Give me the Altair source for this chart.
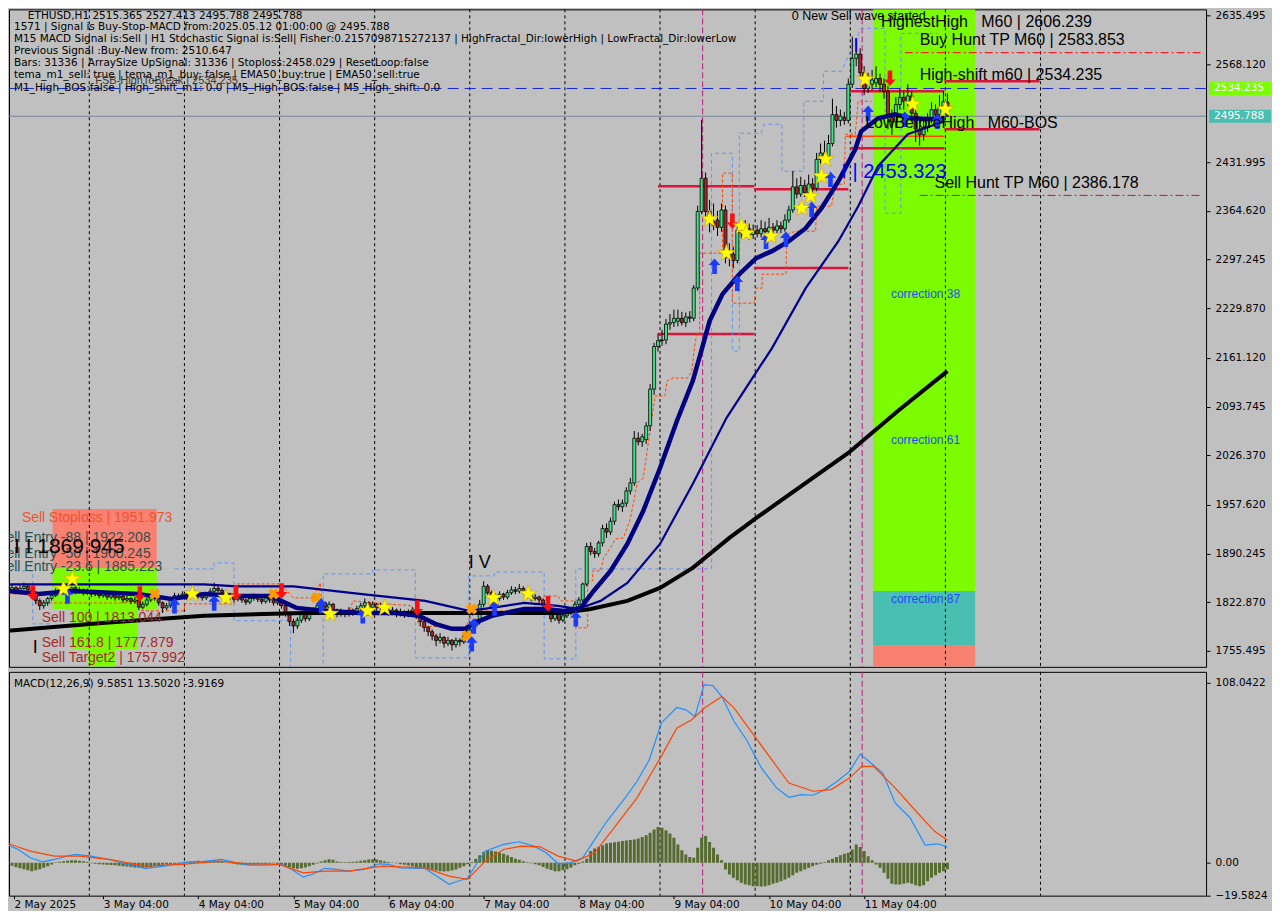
import json
import altair as alt
import pandas as pd

# ---------------- ETHUSD H1 bars (bar 0 = 2 May 04:00, last = 12 May 01:00) ----------------
opens = [
 1838,1840,1843,1838,1842,1845,1840,1836,1825,1818,
 1822,1828,1832,1838,1842,1845,1840,1843,1838,1840,
 1836,1838,1834,1836,1832,1835,1830,1833,1829,1831,
 1826,1828,1824,1826,1816,1820,1826,1830,1828,1822,
 1815,1818,1825,1832,1830,1834,1830,1833,1836,1832,
 1829,1833,1838,1842,1839,1836,1833,1830,1827,1830,
 1826,1823,1828,1831,1827,1824,1829,1826,1822,1825,
 1818,1808,1796,1790,1798,1806,1800,1808,1812,1818,
 1822,1816,1820,1812,1806,1810,1806,1812,1808,1814,
 1818,1822,1816,1820,1815,1818,1812,1808,1812,1806,
 1810,1805,1809,1812,1805,1796,1788,1782,1776,1770,
 1774,1766,1770,1764,1770,1768,1776,1784,1790,1796,
 1820,1845,1836,1832,1828,1834,1830,1836,1840,1838,
 1842,1838,1832,1828,1830,1826,1820,1810,1800,1806,
 1798,1804,1808,1812,1820,1826,1848,1900,1893,1890,
 1905,1925,1920,1935,1958,1955,1960,1977,1988,2050,
 2045,2048,2067,2118,2177,2185,2186,2208,2210,2212,
 2216,2210,2218,2216,2258,2364,2410,2364,2350,2352,
 2342,2366,2300,2305,2296,2338,2334,2340,2332,2338,
 2333,2340,2336,2342,2338,2344,2340,2352,2366,2398,
 2388,2400,2390,2402,2396,2436,2445,2440,2458,2498,
 2490,2494,2490,2540,2576,2582,2556,2534,2540,2542,
 2548,2540,2530,2494,2488,2512,2522,2516,2524,2500,
 2478,2470,2480,2492,2505,2498,2508,2515.365,
]
highs = [
 1846,1848,1845,1846,1850,1847,1842,1838,1828,1826,
 1830,1836,1842,1846,1852,1848,1846,1845,1844,1842,
 1842,1840,1840,1838,1839,1837,1837,1835,1835,1833,
 1832,1830,1830,1828,1824,1829,1834,1832,1830,1824,
 1822,1828,1836,1835,1838,1836,1837,1840,1838,1834,
 1837,1842,1850,1846,1842,1839,1836,1832,1834,1832,
 1828,1832,1835,1833,1829,1833,1831,1828,1830,1827,
 1820,1810,1800,1802,1810,1808,1812,1816,1822,1828,
 1824,1824,1822,1814,1814,1812,1816,1814,1818,1822,
 1828,1824,1824,1822,1822,1820,1814,1816,1814,1814,
 1812,1813,1816,1814,1807,1798,1790,1785,1779,1780,
 1776,1775,1772,1774,1773,1780,1788,1794,1800,1826,
 1852,1848,1839,1835,1838,1836,1840,1845,1844,1848,
 1845,1840,1834,1834,1832,1828,1822,1812,1810,1808,
 1808,1812,1816,1824,1830,1850,1905,1906,1898,1908,
 1930,1932,1940,1962,1965,1965,1982,1995,2060,2058,
 2056,2072,2125,2182,2195,2200,2215,2222,2228,2228,
 2225,2224,2226,2262,2372,2491,2418,2380,2375,2365,
 2375,2372,2320,2315,2345,2348,2352,2348,2346,2345,
 2352,2350,2355,2348,2352,2350,2360,2372,2420,2410,
 2412,2408,2415,2410,2445,2458,2462,2470,2520,2510,
 2505,2502,2548,2606,2600,2590,2565,2556,2560,2565,
 2555,2548,2538,2505,2522,2535,2530,2540,2530,2508,
 2490,2492,2500,2515,2512,2525,2530,2527.413,
]
lows = [
 1835,1837,1834,1836,1840,1836,1830,1820,1812,1814,
 1818,1825,1830,1835,1838,1836,1837,1834,1835,1832,
 1833,1830,1831,1828,1829,1826,1827,1825,1826,1822,
 1823,1820,1821,1812,1813,1817,1823,1825,1818,1808,
 1812,1815,1822,1826,1827,1826,1827,1830,1828,1825,
 1826,1830,1835,1836,1832,1829,1826,1823,1824,1822,
 1819,1820,1825,1823,1820,1821,1822,1818,1819,1814,
 1803,1790,1780,1786,1794,1796,1797,1805,1809,1815,
 1812,1813,1808,1802,1803,1802,1803,1804,1805,1811,
 1815,1812,1813,1811,1812,1808,1804,1805,1802,1803,
 1801,1802,1806,1800,1790,1782,1776,1770,1762,1766,
 1760,1762,1756,1760,1762,1765,1773,1780,1786,1792,
 1816,1832,1828,1824,1825,1826,1827,1833,1834,1835,
 1834,1828,1824,1825,1822,1815,1805,1795,1797,1793,
 1795,1801,1805,1809,1816,1822,1845,1888,1884,1886,
 1900,1912,1916,1930,1950,1948,1955,1972,1984,2040,
 2038,2042,2060,2110,2170,2178,2180,2200,2204,2205,
 2206,2204,2210,2212,2254,2360,2355,2335,2338,2330,
 2336,2292,2288,2285,2292,2326,2328,2325,2326,2328,
 2328,2330,2332,2330,2334,2334,2336,2348,2362,2382,
 2384,2384,2386,2390,2392,2430,2432,2436,2454,2480,
 2482,2484,2486,2535,2565,2550,2525,2528,2532,2536,
 2530,2520,2478,2470,2480,2505,2505,2510,2492,2460,
 2455,2462,2474,2486,2490,2492,2502,2495.788,
]
closes = [
 1840,1843,1838,1842,1845,1840,1836,1825,1818,1822,
 1828,1832,1838,1842,1845,1840,1843,1838,1840,1836,
 1838,1834,1836,1832,1835,1830,1833,1829,1831,1826,
 1828,1824,1826,1816,1820,1826,1830,1828,1822,1815,
 1818,1825,1832,1830,1834,1830,1833,1836,1832,1829,
 1833,1838,1842,1839,1836,1833,1830,1827,1830,1826,
 1823,1828,1831,1827,1824,1829,1826,1822,1825,1818,
 1808,1796,1790,1798,1806,1800,1808,1812,1818,1822,
 1816,1820,1812,1806,1810,1806,1812,1808,1814,1818,
 1822,1816,1820,1815,1818,1812,1808,1812,1806,1810,
 1805,1809,1812,1805,1796,1788,1782,1776,1770,1774,
 1766,1770,1764,1770,1768,1776,1784,1790,1796,1820,
 1845,1836,1832,1828,1834,1830,1836,1840,1838,1842,
 1838,1832,1828,1830,1826,1820,1810,1800,1806,1798,
 1804,1808,1812,1820,1826,1848,1900,1893,1890,1905,
 1925,1920,1935,1958,1955,1960,1977,1988,2050,2045,
 2052,2067,2118,2177,2185,2186,2208,2210,2216,2216,
 2210,2218,2216,2258,2364,2410,2364,2350,2345,2342,
 2366,2300,2305,2296,2338,2334,2340,2332,2338,2333,
 2340,2336,2342,2338,2344,2340,2352,2366,2398,2388,
 2400,2390,2402,2396,2436,2445,2440,2458,2498,2490,
 2496,2490,2540,2576,2582,2556,2534,2540,2546,2548,
 2540,2530,2494,2488,2512,2522,2516,2524,2500,2478,
 2470,2480,2492,2505,2498,2508,2516,2495.788,
]

# ---------------- moving averages ----------------
slow_i = [0, 24.5, 49.5, 74.5, 99.5, 124.5, 139.5, 147, 156.25, 164.5, 172.75, 182, 189.5, 199.5, 212, 224.5, 237]
slow_p = [1783.2, 1794.3, 1804.0, 1808.1, 1808.1, 1808.1, 1808.1, 1813.6, 1824.7, 1842.7, 1870.4, 1911.9, 1942.3, 1981.1, 2029.5, 2087.6, 2142.9]
mid_i = [0, 24.5, 49.5, 57.75, 72, 88.75, 105.25, 116.25, 122, 130.25, 138.75, 143.75, 149.5, 156.25, 164.5, 172.75, 181.25, 192.75, 201.25, 209.5, 214.5, 219.5, 227, 236.25]
mid_p = [1847.6, 1847.6, 1847.6, 1844.8, 1844.8, 1834.4, 1824.7, 1810.9, 1815.0, 1821.9, 1817.8, 1813.6, 1824.7, 1849.6, 1903.6, 1986.6, 2077.9, 2174.8, 2257.8, 2322.8, 2371.2, 2426.6, 2470.9, 2488.8]
fast_i = [0, 7.75, 16.25, 32.75, 41.25, 49.5, 57.75, 66.25, 72.75, 80.25, 88.75, 97, 103.75, 107.75, 112,
          115.25, 117.75, 122, 130.25, 135.25, 140.25, 144.5, 147.75, 152, 156.25, 160.25, 164.5, 168.75,
          172.75, 175.25, 177, 180.25, 184.5, 188.75, 192.75, 197, 201.25, 205.25, 209.5, 213.75, 215.25,
          219.5, 223.75, 227.75, 232, 236.25]
fast_p = [1838.5, 1834.4, 1838.5, 1834.4, 1827.5, 1834.4, 1831.6, 1831.6, 1815.0, 1810.9, 1808.1, 1808.1,
          1804.0, 1792.9, 1786.0, 1786.0, 1794.3, 1804.0, 1813.6, 1813.6, 1810.9, 1815.0, 1838.5, 1866.2,
          1903.6, 1949.2, 2008.7, 2073.8, 2129.1, 2177.5, 2212.1, 2249.5, 2277.1, 2299.3, 2309.0, 2322.8,
          2340.8, 2368.5, 2405.8, 2450.1, 2475.0, 2493.0, 2498.5, 2493.0, 2491.6, 2493.0]

# dashed step lines
blue_a_i = [0, 6.25, 6.25, 10.75]
blue_a_p = [1866.2, 1866.2, 1792.9, 1792.9]
blue_b_i = [42, 52, 52, 57, 57, 71.25, 71.25, 79.5, 79.5, 92, 92, 102.75, 102.75, 116.25, 116.25, 122.75,
            122.75, 135.25, 135.25, 143.25, 143.25, 177.5, 177.5, 182.75, 182.75, 184.5, 184.5, 190, 190.75,
            195.25, 195.25, 200.75, 200.75, 205.75, 205.75, 210.25, 215.25, 221.25, 221.25, 225.25, 225.25, 234.5]
blue_b_p = [1869.0, 1869.0, 1877.3, 1877.3, 1797.3, 1797.3, 1730.6, 1730.6, 1862.1, 1862.1, 1867.6, 1867.6,
            1745.8, 1745.8, 1859.3, 1859.3, 1864.8, 1864.8, 1744.5, 1744.5, 1869.0, 1869.0, 2444.6, 2444.6,
            2170.6, 2170.6, 2472.2, 2472.2, 2484.7, 2484.7, 2419.7, 2419.7, 2516.5, 2516.5, 2558.0, 2558.0,
            2617.5, 2617.5, 2361.5, 2361.5, 2610.6, 2610.6]
orange_i = [0, 7, 7, 13.75, 33.75, 33.75, 44.5, 44.5, 57, 57.75, 68.75, 72, 77, 78.75, 79.5, 86.25, 87, 102,
            103.75, 115.25, 117, 118.75, 132, 135.25, 138.75, 139.5, 143.25, 143.25, 146.25, 146.25, 147.5,
            147.5, 149.5, 150.25, 152, 153.25, 155.25, 157, 158.75, 160.25, 161.5, 163.25, 165.75, 166.25,
            167.75, 171.5, 172.5, 173.25, 173.75, 174.5, 174.5, 180.25, 180.25, 182.75, 182.75, 188.25,
            188.75, 190.25, 190.25, 196.25, 196.5, 198.75, 203.75, 204, 207.75, 208.75, 211, 211.25, 213.75,
            214.5, 217.75]
orange_p = [1834.4, 1834.4, 1821.9, 1821.9, 1821.9, 1810.9, 1810.9, 1820.6, 1820.6, 1848.2, 1848.2, 1828.9,
            1828.9, 1849.6, 1810.9, 1810.9, 1824.7, 1817.8, 1790.1, 1787.4, 1804.0, 1810.9, 1810.9, 1831.6,
            1831.6, 1824.7, 1824.7, 1787.4, 1787.4, 1852.4, 1852.4, 1866.2, 1866.2, 1884.2, 1898.0, 1910.5,
            1911.9, 1938.2, 1988.0, 1994.9, 2042.0, 2108.4, 2108.4, 2129.1, 2133.3, 2133.3, 2143.0, 2177.5,
            2194.1, 2194.1, 2306.2, 2306.2, 2416.9, 2416.9, 2237.0, 2237.0, 2257.8, 2257.8, 2277.1, 2277.1,
            2332.5, 2336.6, 2336.6, 2371.2, 2371.2, 2401.7, 2401.7, 2470.9, 2470.9, 2516.5, 2516.5]

# signal markers
star_i = [16.25, 14, 46.5, 55, 81.25, 90.75, 95, 122.5, 131.25, 177, 181.25, 185, 186.25, 192.5, 200.25,
          202.5, 205.25, 206.25, 216.25, 228.25, 236.5]
star_p = [1855.1, 1841.3, 1834.4, 1828.9, 1806.7, 1810.9, 1815.0, 1828.9, 1834.4, 2353.2, 2306.2, 2343.6,
          2333.9, 2329.7, 2368.5, 2385.1, 2412.7, 2436.3, 2546.9, 2512.4, 2505.4]
up_i = [15, 42, 52, 79, 89.5, 117.5, 117, 122.75, 143.25, 178.25, 184, 191.25, 196.25, 202.75, 207.5, 217, 226.25, 234.5]
up_p = [1831.6, 1817.8, 1821.9, 1817.8, 1804.0, 1790.1, 1765.2, 1815.0, 1799.8, 2288.2, 2264.7, 2322.8,
        2325.6, 2367.1, 2408.6, 2499.9, 2491.6, 2488.8]
down_i = [6.25, 33.25, 57.5, 69, 103.25, 136.25, 182.75, 222.5]
down_p = [1835.8, 1834.4, 1835.8, 1838.5, 1815.0, 1820.6, 2350.5, 2548.3]
cross_i = [37, 67, 77.75, 117, 115.75]
cross_p = [1834.4, 1834.4, 1828.9, 1813.6, 1776.3]

# levels and zones
high_shift = 2534.235
last_price = 2495.788
hunt_tp_i = [226.25, 230.0]
hunt_tp_p = [2583.853, 2386.178]
seg_i1 = [164, 188.25, 188.25, 164, 212.5, 236.25, 236.25, 212.5]
seg_i2 = [188.25, 212, 212, 188.25, 236.25, 260.25, 260.25, 236.25]
seg_p = [2398.9, 2394.8, 2285.5, 2194.1, 2530.3, 2544.2, 2477.8, 2451.5]
bos_i = [211.5, 236.25]
bos_p = 2468.1
zone_right_i = [218.25, 244.0]
zone_right_levels = [2643.8, 1838.5, 1762.5, 1733.4]
zone_left_i1 = [11.25, 11.25, 16.25, 20.25]
zone_left_i2 = [37.5, 37.5, 32.75, 27.0]
zone_left_levels = [1951.973, 1869.945, 1813.044, 1757.992, 1733.4]
day_sep_i = [20.5, 44.5, 68.5, 92.5, 116.5, 140.5, 164.5, 188.5, 212.5, 236.5, 260.5]
signal_sep_i = [175.25, 215.5]

# ---------------- MACD(12,26,9) ----------------
macd_i = [0, 2.6, 5.6, 8.7, 11.7, 14.8, 17.1, 20.9, 25.5, 30.1, 34.7, 39.3, 45.4, 48.5, 53.8, 57.7, 60.7,
          65.3, 69.2, 71.5, 74.5, 76.8, 79.9, 82.9, 86, 89.8, 93.7, 96, 99, 105.1, 108.2, 111.3, 113.6,
          115.9, 118.1, 120.4, 125, 128.9, 132.7, 135.8, 138.8, 141.9, 145, 147.2, 151.1, 155.7, 158.7,
          161.8, 164.8, 168.7, 171, 173.3, 175.6, 177.8, 180.1, 183.2, 186.3, 190.1, 193.9, 197, 200.1,
          203.1, 206.2, 209.2, 212.3, 215, 217.7, 220.7, 223.8, 227.6, 231.4, 234.5, 237]
macd_v = [10.6, 8.0, 3.0, 0.6, 2.0, 4.0, 5.0, 4.0, 2.0, -1.0, -3.3, -2.0, 0.6, 0.6, 2.0, 0.0, -1.4, -1.4,
          -1.0, -3.9, -8.6, -6.9, -3.3, -3.9, -5.0, -3.9, -0.6, -1.0, -3.0, -3.3, -8.0, -12.9, -10.9, -9.3,
          -1.0, 7.0, 11.0, 12.6, 10.0, 6.0, -0.6, 0.0, 3.0, 11.0, 24.9, 38.9, 48.9, 61.8, 83.7, 93.1, 91.7,
          87.7, 106.7, 106.3, 99.7, 84.7, 73.8, 56.8, 44.9, 39.3, 40.9, 40.5, 43.9, 48.9, 54.8, 65.2, 59.8,
          53.8, 35.9, 26.9, 10.6, 11.4, 9.5851]
sig_i = [0, 5.6, 11.7, 17.9, 25.5, 34.7, 43.9, 53.1, 60.7, 68.4, 74.5, 79.9, 86, 94.4, 105.1, 111.3, 115.9,
         120.4, 125, 129.6, 134.2, 138.8, 143.4, 148, 152.6, 158.7, 164.8, 168.7, 172.5, 175.6, 180.1, 183.2,
         189.3, 197, 203.1, 207.7, 212.3, 215.4, 218.4, 223.8, 229.1, 233.7, 237]
sig_v = [11.6, 7.0, 4.0, 4.0, 2.0, -2.0, -1.0, 1.0, -0.6, -1.0, -6.0, -5.0, -5.0, -2.0, -3.0, -8.0, -9.9,
         1.0, 8.0, 10.0, 9.6, 4.0, 1.0, 6.0, 20.0, 38.9, 63.8, 80.7, 85.8, 92.7, 99.7, 92.7, 72.8, 47.8,
         42.9, 43.9, 50.8, 57.8, 57.8, 44.9, 30.9, 19.0, 13.502]
hist = [
 -1.0,-1.8,-2.6,-3.2,-3.8,-4.5,-5.0,-4.5,-3.8,-3.0,
 -2.0,-1.0, 0.3, 0.6, 1.0, 1.3, 1.5, 1.5, 1.3, 1.0,
  0.6,-0.3,-0.6,-0.8,-1.0,-1.2,-1.3,-1.5,-1.8,-2.0,
 -2.2,-2.5,-2.8,-3.0,-3.0,-2.8,-2.5,-2.0,-1.5,-1.2,
 -1.0,-0.8,-0.6,-0.4,-0.2, 0.3, 0.6, 1.0, 1.2, 1.0,
  0.8, 1.0, 1.2, 1.0, 0.6, 0.3,-0.3,-0.6,-1.0,-1.2,
 -1.3,-1.2,-1.0,-0.8,-0.6,-0.5,-0.4,-0.3,-0.5,-1.0,
 -1.8,-2.6,-3.2,-3.5,-3.3,-2.8,-2.0,-1.2,-0.4, 0.8,
  1.6, 2.2, 1.8, 0.8, 0.5, 0.4, 0.5, 0.6, 0.8, 1.2,
  1.6, 2.0, 2.2, 2.0, 1.5, 1.0, 0.5, 0.2,-0.3,-0.8,
 -1.2,-1.6,-2.0,-2.5,-3.0,-3.4,-3.8,-4.2,-4.6,-5.0,
 -5.2,-5.0,-4.6,-4.0,-3.0,-2.0,-0.8, 0.5, 2.5, 4.5,
  6.5, 7.5, 7.2, 6.8, 6.2, 5.5, 4.5, 3.5, 2.5, 1.8,
  1.0, 0.4,-0.2,-0.8,-1.5,-2.5,-3.5,-4.3,-5.0,-5.0,
 -4.5,-3.8,-2.8,-1.5,-0.5, 0.8, 2.5, 7.0, 8.5, 9.5,
 10.5,11.5,12.0,12.3,12.6,13.0,13.3,13.6,14.0,14.5,
 15.5,16.5,18.0,20.0,21.5,21.0,19.5,17.5,15.0,11.0,
  7.5, 5.0, 3.5, 3.0, 9.0,15.0,16.0,12.5, 9.0, 5.0,
  1.5,-4.0,-7.0,-9.0,-10.5,-12.0,-13.0,-13.5,-14.0,-14.0,
 -14.2,-14.0,-13.5,-12.5,-12.0,-11.0,-10.0,-9.0,-7.5,-6.0,
 -5.0,-4.0,-3.0,-2.0,-1.2,-0.5, 0.5, 1.5, 2.5, 3.5,
  4.5, 5.5, 6.0, 8.0,11.0, 9.5, 7.0, 4.0, 1.5,-1.0,
 -3.0,-6.0,-9.5,-12.5,-13.0,-13.0,-12.5,-12.0,-12.5,-13.5,
 -14.0,-13.5,-11.0,-9.0,-7.5,-6.0,-5.0,-3.9169,
]

# ---------------- axis ticks ----------------
price_ticks = [2635.495, 2568.120, 2431.995, 2364.620, 2297.245, 2229.870, 2161.120,
               2093.745, 2026.370, 1957.620, 1890.245, 1822.870, 1755.495]
macd_ticks = [108.0422, 0, -19.5824]
time_tick_i = [1.5, 24, 48, 72, 96, 120, 144, 168, 192, 216]
time_tick_lab = ["2 May 2025", "3 May 04:00", "4 May 04:00", "5 May 04:00", "6 May 04:00",
                 "7 May 04:00", "8 May 04:00", "9 May 04:00", "10 May 04:00", "11 May 04:00"]

# ---------------- texts ----------------
NB = "\u00a0"
info_lines = [
    "ETHUSD,H1  2515.365 2527.413 2495.788 2495.788",
    "1571 | Signal is Buy-Stop-MACD from:2025.05.12 01:00:00 @ 2495.788",
    "M15 MACD Signal is:Sell | H1 Stochastic Signal is:Sell| Fisher:0.2157098715272137 | HighFractal_Dir:lowerHigh | LowFractal_Dir:lowerLow",
    "Previous Signal :Buy-New from: 2510.647",
    "Bars: 31336 | ArraySize UpSignal: 31336 | Stoploss:2458.029 | ResetLoop:false",
    "tema_m1_sell: true | tema_m1_buy: false | EMA50_buy:true | EMA50_sell:true",
    "M1_High_BOS:false | High_shift_m1: 0.0 | M5_High_BOS:false | M5_High_shift: 0.0",
]
info_i = [5, 1.5, 1.5, 1.5, 1.5, 1.5, 1.5]
info_p = [2634.1, 2619.3, 2602.7, 2585.7, 2569.1, 2552.5, 2534.5]
big_labels = ["HighestHigh" + NB * 3 + "M60 | 2606.239", "Buy Hunt TP M60 | 2583.853",
              "High-shift m60 | 2534.235", "LowBeforeHigh" + NB * 3 + "M60-BOS", "Sell Hunt TP M60 | 2386.178"]
big_i = [220.25, 230, 230, 216.25, 233.75]
big_p = [2625.8, 2600.9, 2552.5, 2486.1, 2403.1]
corr_labels = ["correction 38", "correction 61", "correction 87"]
corr_i = [222.75, 222.75, 222.75]
corr_p = [2249.5, 2047.5, 1827.5]
entry_labels = ["Sell Entry -88 | 1922.208", "Sell Entry -50 | 1900.245", "Sell Entry -23.6 | 1885.223"]
entry_i = [-2.75, -2.75, -2.75]
entry_p = [1911.9, 1889.7, 1871.7]
target_labels = ["Sell 100 | 1813.044", "Sell 161.8 | 1777.879", "Sell Target2 | 1757.992"]
target_i = [8.5, 8.5, 8.5]
target_p = [1801.2, 1766.6, 1745.8]
wave_labels = ["I I 1869.945", "I V", "I"]
wave_i = [1.5, 116.25, 6.25]
wave_p = [1899.5, 1877.3, 1759.7]

# ---------------- geometry ----------------
W, H1, H2 = 1198, 658, 224
XDOM = [1.5, 301.0]
YDOM = [1733.4, 2643.8]
MDOM = [-19.7, 114.5]
BG = "#C0C0C0"
AXF = "DejaVu Sans"
TXF = "Liberation Sans"

xs = alt.Scale(domain=XDOM, nice=False, zero=False)
ys = alt.Scale(domain=YDOM, nice=False, zero=False)
ms = alt.Scale(domain=MDOM, nice=False, zero=False)

price_axis = alt.Axis(orient="right", values=price_ticks, format=".3f", title=None, grid=False,
                      tickSize=4, tickColor="black", domain=False, labelColor="black", labelFont=AXF,
                      labelFontSize=10.5, labelPadding=5, labelFlush=False, labelOverlap=False, labelBound=False)
macd_axis = alt.Axis(orient="right", values=macd_ticks, title=None, grid=False, tickSize=4, tickColor="black",
                     domain=False, labelColor="black", labelFont=AXF, labelFontSize=10.5, labelPadding=5,
                     labelFlush=False, labelOverlap=False, labelBound=False,
                     labelExpr="datum.value == 0 ? '0.00' : format(datum.value, '.4f')")
time_axis = alt.Axis(orient="bottom", values=time_tick_i, title=None, grid=False, tickSize=3, tickColor="black",
                     domain=False, labelColor="black", labelFont=AXF, labelFontSize=10.5, labelAlign="left",
                     labelBaseline="top", labelPadding=1, labelFlush=False, labelOverlap=False, labelBound=False,
                     labelExpr=json.dumps(time_tick_lab) + "[indexof(" + json.dumps(time_tick_i) + ", datum.value)]")


def XM(f="i"):
    return alt.X(f"{f}:Q", scale=xs, axis=None)


def YM(f="p"):
    return alt.Y(f"{f}:Q", scale=ys, axis=price_axis)


def XB(f="i"):
    return alt.X(f"{f}:Q", scale=xs, axis=time_axis)


def YB(f="v"):
    return alt.Y(f"{f}:Q", scale=ms, axis=macd_axis)


def pts(ii, pp):
    return pd.DataFrame({"i": ii, "p": pp, "k": list(range(len(ii)))})


def texts(labels, ii, pp, size, color, font=TXF, clip=False):
    df = pd.DataFrame({"t": labels, "i": ii, "p": pp})
    return alt.Chart(df).mark_text(align="left", baseline="middle", fontSize=size, color=color,
                                   font=font, clip=clip).encode(x=XM(), y=YM(), text="t:N")


bars = pd.DataFrame({"i": list(range(len(closes))), "o": opens, "h": highs, "l": lows, "c": closes})

STAR = "M0,-1L0.235,-0.324L0.951,-0.309L0.38,0.124L0.588,0.809L0,0.4L-0.588,0.809L-0.38,0.124L-0.951,-0.309L-0.235,-0.324Z"
UP = "M0,-1L0.75,-0.15L0.3,-0.15L0.3,1L-0.3,1L-0.3,-0.15L-0.75,-0.15Z"
DOWN = "M0,1L0.75,0.15L0.3,0.15L0.3,-1L-0.3,-1L-0.3,0.15L-0.75,0.15Z"
BOX = "M-1,-0.21L1,-0.21L1,0.21L-1,0.21Z"

layers = []
# zones
zr = pd.DataFrame({"i1": [zone_right_i[0]] * 3, "i2": [zone_right_i[1]] * 3,
                   "p1": zone_right_levels[:-1], "p2": zone_right_levels[1:], "z": ["r1", "r2", "r3"]})
zl = pd.DataFrame({"i1": zone_left_i1, "i2": zone_left_i2,
                   "p1": zone_left_levels[:-1], "p2": zone_left_levels[1:], "z": ["l1", "l2", "l3", "l4"]})
zone_color = alt.Color("z:N", legend=None, scale=alt.Scale(
    domain=["r1", "r2", "r3", "l1", "l2", "l3", "l4"],
    range=["#7CFC00", "#48BFB0", "#F7806F", "#FA8072", "#7CFC00", "#7CFC00", "#7CFC00"]))
for zdf in (zr, zl):
    layers.append(alt.Chart(zdf).mark_rect(clip=True).encode(x=XM("i1"), x2="i2", y=YM("p1"), y2="p2",
                                                           color=zone_color))
# separators
layers.append(alt.Chart(pd.DataFrame({"i": day_sep_i})).mark_rule(color="black", strokeDash=[3, 3],
                                                                   strokeWidth=1).encode(x=XM()))
layers.append(alt.Chart(pd.DataFrame({"i": signal_sep_i})).mark_rule(color="#C71585", strokeDash=[6, 3],
                                                                      strokeWidth=1).encode(x=XM()))
# full-width levels
layers.append(alt.Chart(pd.DataFrame({"p": [last_price]})).mark_rule(color="#778899", strokeWidth=1).encode(y=YM()))
layers.append(alt.Chart(pd.DataFrame({"p": [high_shift]})).mark_rule(color="#1428D2", strokeDash=[11, 6],
                                                                    strokeWidth=1).encode(y=YM()))
layers.append(alt.Chart(pd.DataFrame({"i1": hunt_tp_i, "i2": [XDOM[1]] * 2, "p": hunt_tp_p})).mark_rule(
    color="#FF0000", strokeDash=[8, 3, 2, 3], strokeWidth=1).encode(x=XM("i1"), x2="i2", y=YM()))
layers.append(alt.Chart(pd.DataFrame({"i1": seg_i1, "i2": seg_i2, "p": seg_p})).mark_rule(
    color="#DC143C", strokeWidth=2.5).encode(x=XM("i1"), x2="i2", y=YM()))
layers.append(alt.Chart(pd.DataFrame({"i1": [bos_i[0]], "i2": [bos_i[1]], "p": [bos_p]})).mark_rule(
    color="#FF4500", strokeWidth=1.5).encode(x=XM("i1"), x2="i2", y=YM()))
# dashed step lines
for ii, pp in ((blue_a_i, blue_a_p), (blue_b_i, blue_b_p)):
    layers.append(alt.Chart(pts(ii, pp)).mark_line(color="#6495ED", strokeDash=[4, 3], strokeWidth=1,
                                                   clip=True).encode(x=XM(), y=YM(), order="k:Q"))
layers.append(alt.Chart(pts(orange_i, orange_p)).mark_line(color="#FF4500", strokeDash=[3, 2], strokeWidth=1,
                                                           clip=True).encode(x=XM(), y=YM(), order="k:Q"))
# candles
layers.append(alt.Chart(bars).mark_rule(color="black", strokeWidth=1, clip=True).encode(
    x=XM(), y=YM("l"), y2="h"))
layers.append(alt.Chart(bars).mark_bar(size=3, stroke="black", strokeWidth=0.8, clip=True).encode(
    x=XM(), y=YM("o"), y2="c",
    color=alt.condition("datum.c >= datum.o", alt.value("#3DE586"), alt.value("#A8282C"))))
# moving averages
layers.append(alt.Chart(pts(slow_i, slow_p)).mark_line(color="black", strokeWidth=4, clip=True).encode(
    x=XM(), y=YM(), order="k:Q"))
layers.append(alt.Chart(pts(mid_i, mid_p)).mark_line(color="#00008B", strokeWidth=2.2, clip=True).encode(
    x=XM(), y=YM(), order="k:Q"))
layers.append(alt.Chart(pts(fast_i, fast_p)).mark_line(color="#000080", strokeWidth=4.5, clip=True).encode(
    x=XM(), y=YM(), order="k:Q"))
# markers
layers.append(alt.Chart(pts(cross_i, cross_p)).mark_point(shape="cross", angle=45, size=130, filled=True,
                                                          color="#FF9900", opacity=1).encode(x=XM(), y=YM()))
layers.append(alt.Chart(pts(up_i, up_p)).mark_point(shape=UP, size=240, filled=True, color="#1A3CFF",
                                                    opacity=1).encode(x=XM(), y=YM()))
layers.append(alt.Chart(pts(down_i, down_p)).mark_point(shape=DOWN, size=240, filled=True, color="#FF1010",
                                                        opacity=1).encode(x=XM(), y=YM()))
layers.append(alt.Chart(pts(star_i, star_p)).mark_point(shape=STAR, size=320, filled=True, color="#FFFF00",
                                                        stroke="#D4A000", strokeWidth=0.6, opacity=1).encode(
    x=XM(), y=YM()))
# texts
layers.append(texts(info_lines, info_i, info_p, 10.5, "black", font=AXF))
layers.append(texts(["FSB-HighToBreak | 2534.235"], [22], [2544.2], 11, "#3A3A3A"))
layers.append(texts(["0 New Sell wave started"], [197.75], [2634.1], 12.5, "black"))
layers.append(texts(big_labels, big_i, big_p, 16, "black"))
layers.append(texts(["I | 2453.323", "I"], [210.25, 213.25], [2418.3, 2592.6], 20, "#0000FF"))
layers.append(texts(corr_labels, corr_i, corr_p, 12, "#1D4BFF"))
layers.append(texts(["Sell Stoploss | 1951.973"], [3.5], [1939.5], 14, "#F0522E"))
layers.append(texts(entry_labels, entry_i, entry_p, 14, "#2F4F4F", clip=True))
layers.append(texts(target_labels, target_i, target_p, 14, "#A52A2A"))
layers.append(texts(wave_labels[:1], wave_i[:1], wave_p[:1], 21, "black"))
layers.append(texts(wave_labels[1:], wave_i[1:], wave_p[1:], 18, "black"))
# price boxes on the right scale
boxes = pd.DataFrame({"p": [high_shift, last_price], "t": ["2534.235", "2495.788"], "b": ["hs", "lp"]})
layers.append(alt.Chart(boxes).mark_point(shape=BOX, size=3844, filled=True, opacity=1).encode(
    x=alt.value(W + 34), y=YM(),
    color=alt.Color("b:N", legend=None, scale=alt.Scale(domain=["hs", "lp"], range=["#0000FF", "#000000"]))))
layers.append(alt.Chart(boxes).mark_text(align="left", baseline="middle", font=AXF, fontSize=10.5,
                                         color="white").encode(x=alt.value(W + 8), y=YM(), text="t:N"))

main = alt.layer(*layers).properties(width=W, height=H1)

# ---------------- MACD panel ----------------
mlayers = []
mlayers.append(alt.Chart(pd.DataFrame({"i": day_sep_i})).mark_rule(color="black", strokeDash=[3, 3],
                                                                    strokeWidth=1).encode(x=XB()))
mlayers.append(alt.Chart(pd.DataFrame({"i": signal_sep_i})).mark_rule(color="#C71585", strokeDash=[6, 3],
                                                                       strokeWidth=1).encode(x=XB()))
hdf = pd.DataFrame({"i": list(range(len(hist))), "v": hist})
mlayers.append(alt.Chart(hdf).mark_bar(size=3, color="#556B2F", clip=True).encode(
    x=XB(), y=YB(), y2=alt.datum(0)))
mlayers.append(alt.Chart(pd.DataFrame({"i": macd_i, "v": macd_v})).mark_line(
    color="#1E90FF", strokeWidth=1.2, clip=True).encode(x=XB(), y=YB()))
mlayers.append(alt.Chart(pd.DataFrame({"i": sig_i, "v": sig_v})).mark_line(
    color="#FF4500", strokeWidth=1.2, clip=True).encode(x=XB(), y=YB()))
mlayers.append(alt.Chart(pd.DataFrame({"t": ["MACD(12,26,9) 9.5851 13.5020 -3.9169"], "i": [1.5], "v": [107.5]}))
               .mark_text(align="left", baseline="middle", font=AXF, fontSize=10.5, color="black")
               .encode(x=XB(), y=YB(), text="t:N"))
macd = alt.layer(*mlayers).properties(width=W, height=H2)

chart = alt.vconcat(main, macd, spacing=3).properties(
    background=BG, padding={"left": 0, "top": 0, "right": 0, "bottom": 0}
).configure_view(stroke="black", strokeWidth=1, fill=BG)

chart.save("out.html", embed_options={"renderer": "svg", "actions": False})
